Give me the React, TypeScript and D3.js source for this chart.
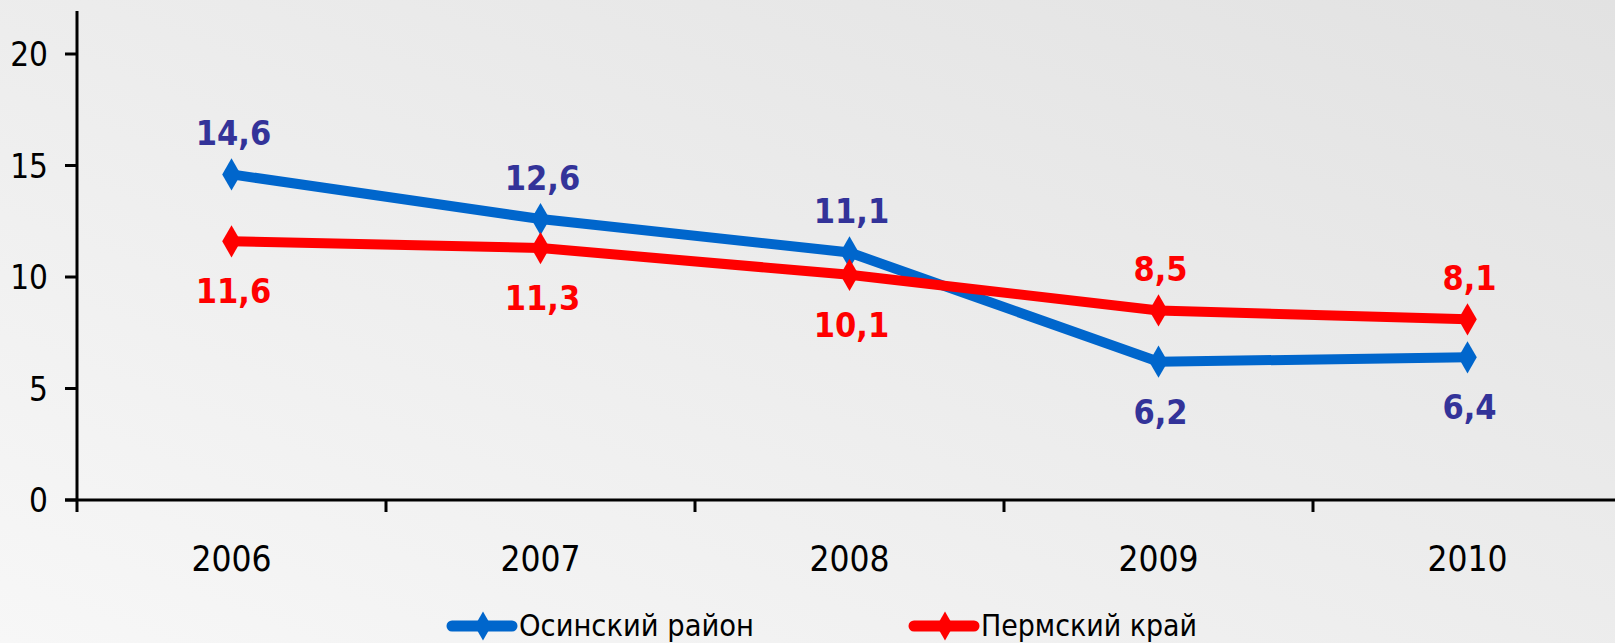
import React, { useRef, useEffect } from 'react';
import * as d3 from 'd3';

const years = ['2006', '2007', '2008', '2009', '2010'];
const osaValues = [14.6, 12.6, 11.1, 6.2, 6.4];
const permValues = [11.6, 11.3, 10.1, 8.5, 8.1];
const osaLabels = ['14,6', '12,6', '11,1', '6,2', '6,4'];
const permLabels = ['11,6', '11,3', '10,1', '8,5', '8,1'];
// true = label sits above the point
const osaAbove = [true, true, true, false, false];
const permAbove = [false, false, false, true, true];
const yTicks = [0, 5, 10, 15, 20];
const seriesNames = ['Осинский  район', 'Пермский  край'];

const W = 1615;
const H = 643;
const FONT = "Tahoma, 'DejaVu Sans Condensed', 'DejaVu Sans', sans-serif";

const App: React.FC = () => {
  const ref = useRef<SVGSVGElement | null>(null);

  useEffect(() => {
    if (!ref.current) return;
    const svg = d3.select(ref.current);
    svg.selectAll('*').remove();

    // background gradient
    const defs = svg.append('defs');
    const grad = defs.append('linearGradient')
      .attr('id', 'bg')
      .attr('x1', '100%').attr('y1', '0%')
      .attr('x2', '0%').attr('y2', '100%');
    grad.append('stop').attr('offset', '0%').attr('stop-color', '#e2e2e2');
    grad.append('stop').attr('offset', '100%').attr('stop-color', '#f7f7f7');
    svg.append('rect').attr('width', W).attr('height', H).attr('fill', 'url(#bg)');

    const left = 77;
    const x = d3.scaleBand<string>().domain(years).range([left, left + 5 * 309]);
    const y = d3.scaleLinear().domain([0, 20]).range([500, 54]);
    const cx = (d: string) => (x(d) as number) + x.bandwidth() / 2;

    // axes
    svg.append('line')
      .attr('x1', left).attr('x2', left)
      .attr('y1', 11).attr('y2', y(0) + 12)
      .attr('stroke', '#000').attr('stroke-width', 3);
    svg.append('line')
      .attr('x1', left - 12).attr('x2', W)
      .attr('y1', y(0)).attr('y2', y(0))
      .attr('stroke', '#000').attr('stroke-width', 3);

    yTicks.forEach((t) => {
      svg.append('line')
        .attr('x1', left - 12).attr('x2', left)
        .attr('y1', y(t)).attr('y2', y(t))
        .attr('stroke', '#000').attr('stroke-width', 3);
      svg.append('text')
        .attr('x', 48).attr('y', y(t) + 12)
        .attr('text-anchor', 'end')
        .attr('font-family', FONT).attr('font-size', 33)
        .attr('fill', '#000')
        .text(String(t));
    });

    years.forEach((yr, i) => {
      const bx = (x(yr) as number) + x.step();
      if (i < years.length - 1) {
        svg.append('line')
          .attr('x1', bx).attr('x2', bx)
          .attr('y1', y(0)).attr('y2', y(0) + 12)
          .attr('stroke', '#000').attr('stroke-width', 3);
      }
      svg.append('text')
        .attr('x', cx(yr)).attr('y', 571)
        .attr('text-anchor', 'middle')
        .attr('font-family', FONT).attr('font-size', 35)
        .attr('fill', '#000')
        .text(yr);
    });

    const series = [
      { values: osaValues, labels: osaLabels, above: osaAbove, color: '#0066cc', labelColor: '#333399' },
      { values: permValues, labels: permLabels, above: permAbove, color: '#ff0000', labelColor: '#ff0000' },
    ];

    const line = d3.line<number>()
      .x((_, i) => cx(years[i]))
      .y((v) => y(v));

    const diamond = d3.symbol().type(d3.symbolDiamond).size(300);

    series.forEach((s) => {
      svg.append('path')
        .attr('d', line(s.values) as string)
        .attr('fill', 'none')
        .attr('stroke', s.color)
        .attr('stroke-width', 10);
      s.values.forEach((v, i) => {
        svg.append('path')
          .attr('d', diamond() as string)
          .attr('transform', `translate(${cx(years[i])},${y(v)})`)
          .attr('fill', s.color);
        svg.append('text')
          .attr('x', cx(years[i]) + 2)
          .attr('y', s.above[i] ? y(v) - 29 : y(v) + 62)
          .attr('text-anchor', 'middle')
          .attr('font-family', FONT).attr('font-size', 34)
          .attr('font-weight', 'bold')
          .attr('fill', s.labelColor)
          .text(s.labels[i]);
      });
    });

    // legend
    const legendX = [448, 910];
    const legendW = [235, 216];
    const ly = 626;
    series.forEach((s, i) => {
      const lx = legendX[i];
      svg.append('line')
        .attr('x1', lx + 4).attr('x2', lx + 64)
        .attr('y1', ly).attr('y2', ly)
        .attr('stroke', s.color).attr('stroke-width', 11)
        .attr('stroke-linecap', 'round');
      svg.append('path')
        .attr('d', d3.symbol().type(d3.symbolDiamond).size(240)() as string)
        .attr('transform', `translate(${lx + 35},${ly})`)
        .attr('fill', s.color);
      svg.append('text')
        .attr('x', lx + 71).attr('y', 636)
        .attr('font-family', FONT).attr('font-size', 30)
        .attr('fill', '#000')
        .attr('textLength', legendW[i])
        .attr('lengthAdjust', 'spacingAndGlyphs')
        .text(seriesNames[i]);
    });
  }, []);

  return (
    <svg
      ref={ref}
      width={W}
      height={H}
      style={{ position: 'absolute', left: 0, top: 0, display: 'block' }}
    />
  );
};

export default App;
